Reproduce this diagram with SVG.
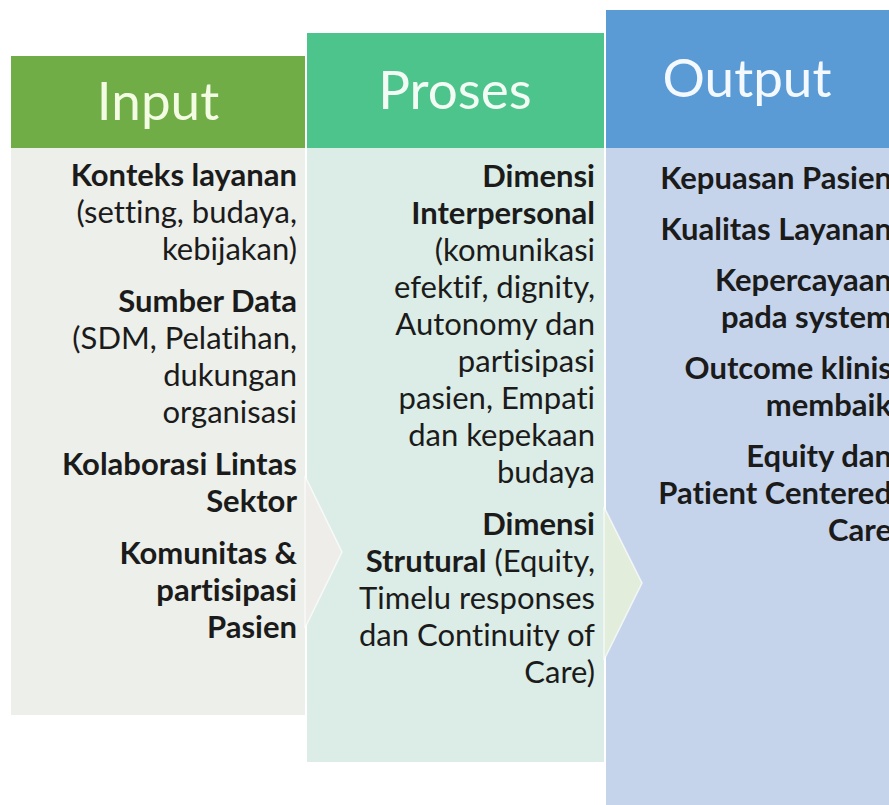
<svg xmlns="http://www.w3.org/2000/svg" width="889" height="805" viewBox="0 0 889 805">
<style>
.hd{font-family:Lato,"Open Sans","Liberation Sans",sans-serif;font-size:53px;text-anchor:middle;font-variant-ligatures:none}
.tx{font-family:Lato,"Open Sans","Liberation Sans",sans-serif;font-size:31px;fill:#1b1b1b;text-anchor:end;font-variant-ligatures:none}
.b{font-weight:bold}
</style>
<rect x="0" y="0" width="889" height="805" fill="#ffffff"/>
<g id="node-output">
<rect x="606" y="148" width="290" height="660" fill="#c6d4eb"/>
<rect x="606" y="10" width="290" height="138" fill="#5b9bd5"/>
<text class="hd" x="747" y="97" fill="#f4f8ff">Output</text>
</g>
<g id="node-proses">
<rect x="307" y="148" width="297" height="614" fill="#dbede6"/>
<rect x="307" y="33" width="297" height="115" fill="#4dc48b"/>
<text class="hd" x="455" y="109" fill="#f2fbf4">Proses</text>
</g>
<g id="node-input">
<rect x="11" y="148" width="294" height="567" fill="#ecefea"/>
<rect x="11" y="56" width="294" height="92" fill="#70ad47"/>
<text class="hd" x="158" y="120" fill="#f3fbe2">Input</text>
</g>
<g id="connectors">
<polygon points="305,476 342,552 305,628" fill="#efede9" stroke="#ffffff" stroke-opacity="0.7" stroke-width="1.5"/>
<polygon points="604,507 642,583 604,660" fill="#e2eddb" stroke="#ffffff" stroke-opacity="0.7" stroke-width="1.5"/>
</g>
<g id="text-input">
<text class="tx b" x="297" y="186">Konteks layanan</text>
<text class="tx" x="297" y="223">(setting, budaya,</text>
<text class="tx" x="297" y="260">kebijakan)</text>
<text class="tx b" x="297" y="312">Sumber Data</text>
<text class="tx" x="297" y="349">(SDM, Pelatihan,</text>
<text class="tx" x="297" y="386">dukungan</text>
<text class="tx" x="297" y="423">organisasi</text>
<text class="tx b" x="297" y="475">Kolaborasi Lintas</text>
<text class="tx b" x="297" y="512">Sektor</text>
<text class="tx b" x="297" y="564">Komunitas &amp;</text>
<text class="tx b" x="297" y="601">partisipasi</text>
<text class="tx b" x="297" y="638">Pasien</text>
</g>
<g id="text-proses">
<text class="tx b" x="595" y="187">Dimensi</text>
<text class="tx b" x="595" y="224">Interpersonal</text>
<text class="tx" x="595" y="261">(komunikasi</text>
<text class="tx" x="595" y="298">efektif, dignity,</text>
<text class="tx" x="595" y="335">Autonomy dan</text>
<text class="tx" x="595" y="372">partisipasi</text>
<text class="tx" x="595" y="409">pasien, Empati</text>
<text class="tx" x="595" y="446">dan kepekaan</text>
<text class="tx" x="595" y="483">budaya</text>
<text class="tx b" x="595" y="535">Dimensi</text>
<text class="tx" x="595" y="572"><tspan class="b">Strutural</tspan> (Equity,</text>
<text class="tx" x="595" y="609">Timelu responses</text>
<text class="tx" x="595" y="646">dan Continuity of</text>
<text class="tx" x="595" y="683">Care)</text>
</g>
<g id="text-output">
<text class="tx b" x="892" y="189">Kepuasan Pasien</text>
<text class="tx b" x="892" y="240">Kualitas Layanan</text>
<text class="tx b" x="892" y="291">Kepercayaan</text>
<text class="tx b" x="892" y="328">pada system</text>
<text class="tx b" x="892" y="379">Outcome klinis</text>
<text class="tx b" x="892" y="416">membaik</text>
<text class="tx b" x="892" y="467">Equity dan</text>
<text class="tx b" x="892" y="504">Patient Centered</text>
<text class="tx b" x="892" y="541">Care</text>
</g>
</svg>
